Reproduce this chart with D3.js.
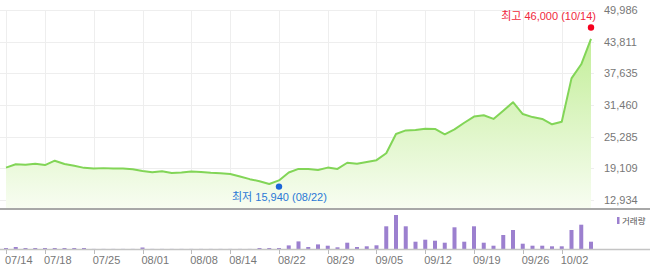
<!DOCTYPE html>
<html>
<head>
<meta charset="utf-8">
<script src="https://cdn.jsdelivr.net/npm/d3@7"></script>
<style>
  body { margin: 0; background: #fff; }
  svg { display: block; font-family: "Liberation Sans", Arial, "Noto Sans CJK KR", sans-serif; }
</style>
</head>
<body>
<div class="chart"></div>
<script>
// DATA ------------------------------

// trading days, 07/14 ~ 10/14
let dates = [
  "07/14","07/15","07/16","07/17","07/18","07/21","07/22","07/23","07/24","07/25",
  "07/28","07/29","07/30","07/31","08/01","08/04","08/05","08/06","08/07","08/08",
  "08/11","08/12","08/13","08/14","08/18","08/19","08/20","08/21","08/22","08/25",
  "08/26","08/27","08/28","08/29","09/01","09/02","09/03","09/04","09/05","09/08",
  "09/09","09/10","09/11","09/12","09/15","09/16","09/17","09/18","09/19","09/22",
  "09/23","09/24","09/25","09/26","09/29","09/30","10/01","10/02","10/10","10/13",
  "10/14"
];

let prices = [
  19250, 19900, 19800, 20000, 19750, 20600, 19950, 19600, 19200, 19100,
  19150, 19100, 19100, 18950, 18600, 18350, 18550, 18200, 18300, 18500,
  18400, 18250, 18150, 18000, 17500, 17000, 16600, 16050, 16750, 18300,
  19000, 19000, 18800, 19250, 19000, 20200, 20000, 20350, 20700, 22050,
  25800, 26500, 26600, 26850, 26800, 25750, 26700, 28000, 29200, 29450,
  28750, 30350, 32000, 29700, 29100, 28750, 27700, 28200, 36650, 39400,
  44350
];

// volume (relative units)
let volumes = [
  10, 20, 10, 10, 10, 10, 10, 10, 10, 1,
  1, 1, 1, 1, 15, 1, 1, 1, 1, 1,
  1, 1, 1, 1, 1, 1, 10, 10, 10, 36,
  76, 20, 46, 33, 17, 63, 20, 27, 37, 227,
  340, 227, 73, 93, 83, 63, 217, 73, 227, 63,
  33, 140, 190, 53, 33, 33, 27, 27, 190, 243,
  73
];

let tickDates = ["07/14","07/18","07/25","08/01","08/08","08/14","08/22","08/29","09/05","09/12","09/19","09/26","10/02"];
let yTicks = [12934, 19109, 25285, 31460, 37635, 43811, 49986];

let high = { value: 46000, date: "10/14", label: "최고 46,000 (10/14)" };
let low = { value: 15940, date: "08/22", label: "최저 15,940 (08/22)" };

// CHART INIT ------------------------------

let width = 650, height = 271;
let plotRight = 594;

let svg = d3.select(".chart")
  .append("svg")
  .attr("width", width)
  .attr("height", height);

let x = d3.scaleLinear()
  .domain([0, dates.length - 1])
  .range([6, 591]);

let y = d3.scaleLinear()
  .domain([12934, 49986])
  .range([200, 10]);

let yVol = d3.scaleLinear()
  .domain([0, 370])
  .range([249, 212]);

let mainBottom = 209;

// gradient for area
let defs = svg.append("defs");
let grad = defs.append("linearGradient")
  .attr("id", "areaGrad")
  .attr("gradientUnits", "userSpaceOnUse")
  .attr("x1", 0).attr("x2", 0)
  .attr("y1", 30).attr("y2", mainBottom);
grad.append("stop").attr("offset", "0%").attr("stop-color", "#c0ed94");
grad.append("stop").attr("offset", "100%").attr("stop-color", "#f8fdf2");

// grid
let grid = svg.append("g").attr("class", "grid");
grid.selectAll(".hgrid")
  .data(yTicks)
  .enter()
  .append("line")
  .attr("x1", 0)
  .attr("x2", plotRight)
  .attr("y1", d => Math.round(y(d)) + 0.5)
  .attr("y2", d => Math.round(y(d)) + 0.5)
  .attr("stroke", "#eeeeee");

grid.selectAll(".vgrid")
  .data(tickDates)
  .enter()
  .append("line")
  .attr("x1", d => Math.round(x(dates.indexOf(d))) + 0.5)
  .attr("x2", d => Math.round(x(dates.indexOf(d))) + 0.5)
  .attr("y1", y(49986))
  .attr("y2", mainBottom)
  .attr("stroke", "#eeeeee");

// area + line
let area = d3.area()
  .x((d, i) => x(i))
  .y0(mainBottom)
  .y1(d => y(d));

let line = d3.line()
  .x((d, i) => x(i))
  .y(d => y(d));

svg.append("path")
  .datum(prices)
  .attr("d", area)
  .attr("fill", "url(#areaGrad)");

svg.append("path")
  .datum(prices)
  .attr("d", line)
  .attr("fill", "none")
  .attr("stroke", "#82d557")
  .attr("stroke-width", 2)
  .attr("stroke-linejoin", "round");

// y labels (right)
svg.selectAll(".ylabel")
  .data(yTicks)
  .enter()
  .append("text")
  .attr("x", 604)
  .attr("y", d => y(d) + 4)
  .attr("font-size", 11)
  .attr("fill", "#777")
  .text(d => d3.format(",")(d));

// separator + volume baseline
svg.append("line")
  .attr("x1", 0).attr("x2", width)
  .attr("y1", mainBottom).attr("y2", mainBottom)
  .attr("stroke", "#a8a8a8")
  .attr("stroke-width", 2);

// volume bars
svg.selectAll(".vol")
  .data(volumes)
  .enter()
  .append("rect")
  .attr("class", "vol")
  .attr("x", (d, i) => x(i) - 2)
  .attr("y", d => yVol(d))
  .attr("width", 4)
  .attr("height", d => yVol(0) - yVol(d))
  .attr("fill", "#9c80cf");

svg.append("line")
  .attr("x1", 0).attr("x2", width)
  .attr("y1", 249.5).attr("y2", 249.5)
  .attr("stroke", "#c4c4c4")
  .attr("stroke-width", 1.5);

// x ticks + labels
let xt = svg.append("g").attr("class", "x-axis");
xt.selectAll("line")
  .data(tickDates)
  .enter()
  .append("line")
  .attr("x1", d => Math.round(x(dates.indexOf(d))) + 0.5)
  .attr("x2", d => Math.round(x(dates.indexOf(d))) + 0.5)
  .attr("y1", 250)
  .attr("y2", 254)
  .attr("stroke", "#bbb");

xt.selectAll("text")
  .data(tickDates)
  .enter()
  .append("text")
  .attr("x", d => x(dates.indexOf(d)) - 1)
  .attr("y", 264)
  .attr("font-size", 11)
  .attr("fill", "#777")
  .text(d => d);

// legend
svg.append("rect")
  .attr("x", 617)
  .attr("y", 217)
  .attr("width", 2.5)
  .attr("height", 7)
  .attr("fill", "#9c80cf");
svg.append("text")
  .attr("x", 622)
  .attr("y", 224)
  .attr("font-size", 8.5)
  .attr("fill", "#555")
  .text("거래량");

// high / low markers
let hx = x(dates.indexOf(high.date)), hy = y(high.value) - 3;
svg.append("circle")
  .attr("cx", hx).attr("cy", hy).attr("r", 3.2)
  .attr("fill", "#f5001e");
svg.append("text")
  .attr("x", hx + 5)
  .attr("y", hy - 7)
  .attr("text-anchor", "end")
  .attr("font-size", 11)
  .attr("fill", "#f0283c")
  .text(high.label);

let lx = x(dates.indexOf(low.date)), ly = y(low.value) + 2;
svg.append("circle")
  .attr("cx", lx).attr("cy", ly).attr("r", 3.2)
  .attr("fill", "#1c66d8");
svg.append("text")
  .attr("x", lx - 47)
  .attr("y", ly + 14.5)
  .attr("font-size", 11)
  .attr("fill", "#2a78d6")
  .text(low.label);
</script>
</body>
</html>
